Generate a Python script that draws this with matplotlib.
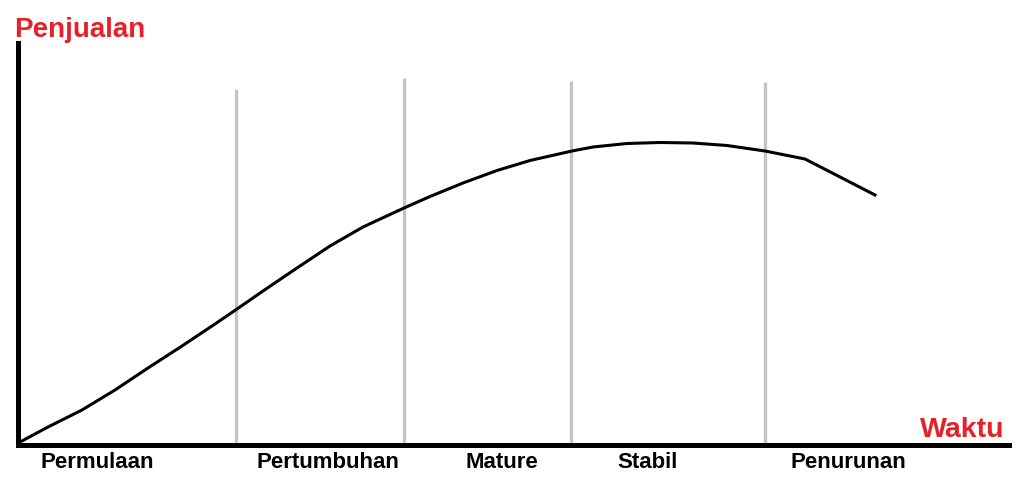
import matplotlib
matplotlib.use("Agg")
import matplotlib.pyplot as plt

# product life cycle curve (arbitrary units)
waktu = [2, 30, 64, 97, 130, 164, 197, 219, 245, 279, 312, 345, 386, 412, 445,
         479, 512, 554, 575, 609, 642, 675, 709, 747, 787, 857]
penjualan = [3, 18, 35, 55, 77, 99, 121, 136, 154, 177, 199, 218, 237, 248.5, 262,
             274.5, 284.5, 294, 298, 301.5, 302.5, 302, 299.5, 294, 286, 250]

# stage boundaries and their top ends
batas = [218, 386, 553, 747]
batas_atas = [356, 367, 364, 363]

tahap = ["Permulaan", "Pertumbuhan", "Mature", "Stabil", "Penurunan"]
tahap_x = [79, 310, 484, 630, 830]

plt.rcParams["font.family"] = ["Liberation Sans", "DejaVu Sans"]

fig = plt.figure(figsize=(10.24, 4.81), dpi=100)
ax = fig.add_axes([18 / 1024, 35 / 481, 991 / 1024, 402 / 481])
ax.set_xlim(0, 991)
ax.set_ylim(0, 402)

ax.vlines(batas, 0, batas_atas, colors="#c4c4c4", linewidth=2.4, zorder=1)
ax.plot(waktu, penjualan, color="black", linewidth=2.2, solid_joinstyle="round", zorder=2)

for s in ["top", "right"]:
    ax.spines[s].set_visible(False)
for s in ["left", "bottom"]:
    ax.spines[s].set_linewidth(3.6)
    ax.spines[s].set_zorder(3)
ax.set_xticks([])
ax.set_yticks([])

for nama, x in zip(tahap, tahap_x):
    ax.text(x, -6, nama, ha="center", va="top", fontsize=16, fontweight="bold", clip_on=False)

ax.text(-4, 409, "Penjualan", ha="left", va="baseline", fontsize=20, fontweight="bold",
        color="#e8202a", clip_on=False)
ax.text(902, 9, "Waktu", ha="left", va="baseline", fontsize=20.5, fontweight="bold",
        color="#e8202a", clip_on=False)

fig.savefig("out.png", dpi=100)
